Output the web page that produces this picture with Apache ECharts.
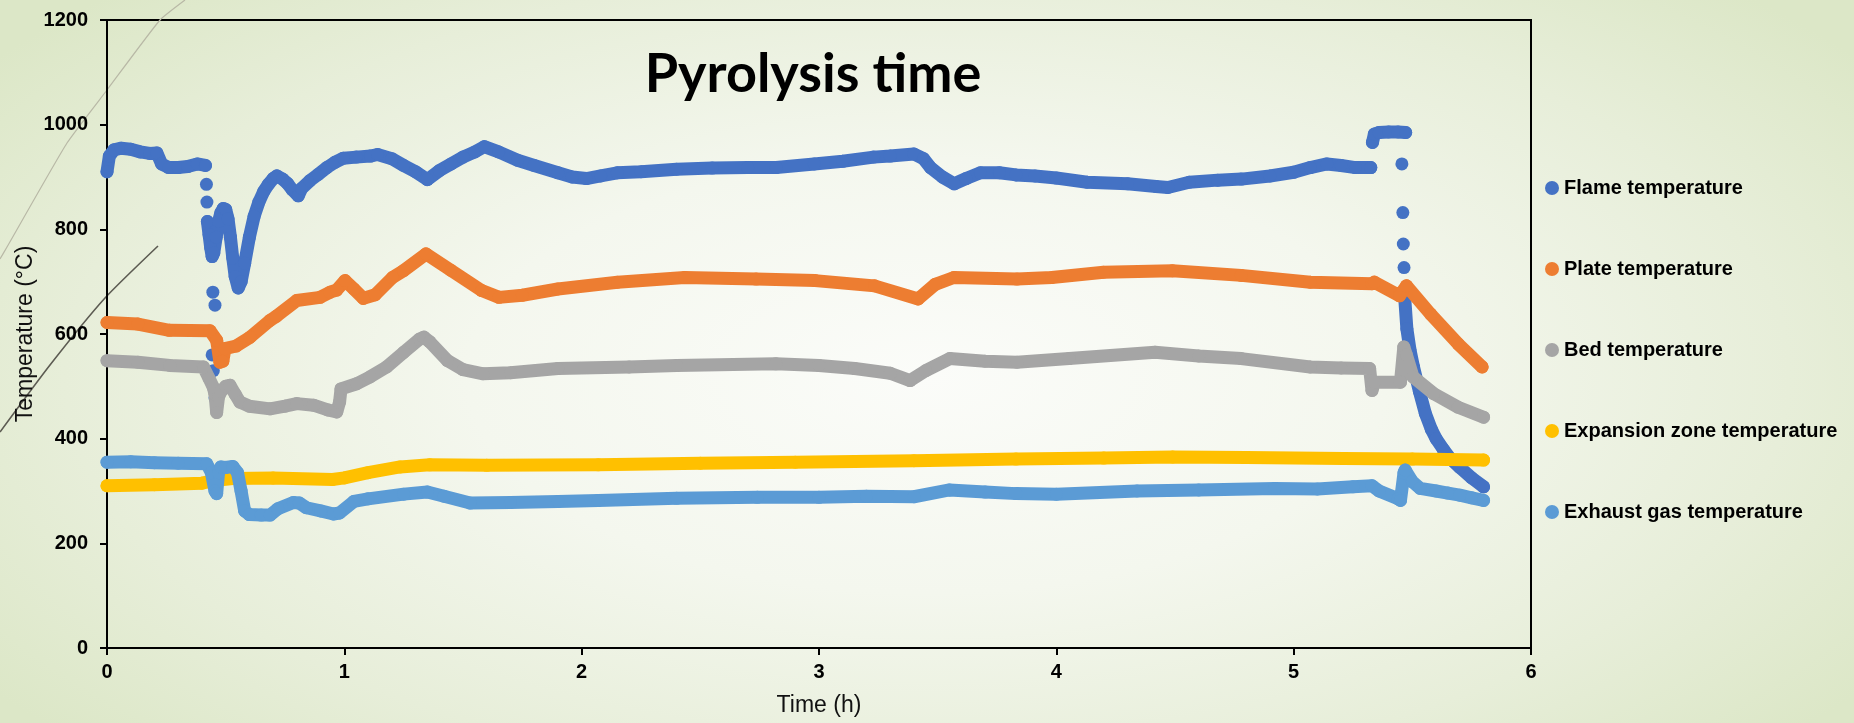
<!DOCTYPE html>
<html>
<head>
<meta charset="utf-8">
<script src="https://cdn.jsdelivr.net/npm/echarts@6/dist/echarts.min.js"></script>
<style>
html,body{margin:0;padding:0;}
#chart{width:1854px;height:723px;background:radial-gradient(ellipse 62% 75% at 50% 52%, #fbfcf9 0%, #f4f7ee 40%, #e7eed9 75%, #dce7c7 100%);}
</style>
</head>
<body>
<div id="chart"></div>
<script>
// ---------- data (time in h, temperature in °C); null = gap between separate dots ----------
const seriesNames = ['Flame temperature','Plate temperature','Bed temperature','Expansion zone temperature','Exhaust gas temperature'];
const seriesColors = ['#4472C4','#ED7D31','#A5A5A5','#FFC000','#5B9BD5'];
const xTicks = [0,1,2,3,4,5,6];
const yTicks = [0,200,400,600,800,1000,1200];

const flameTime = [0,0.01,0.03,0.06,0.10,0.14,0.18,0.21,0.23,0.26,0.30,0.34,0.38,0.415,null,
  0.419,null,0.421,null,0.443,null,0.448,null,0.455,null,0.446,null,0.455,null,
  0.423,0.43,0.437,0.443,0.45,0.46,0.47,0.48,0.49,0.50,0.51,0.52,0.53,0.54,0.553,0.565,0.58,0.60,0.62,0.64,0.66,0.68,0.70,0.716,0.74,0.76,0.78,0.806,0.82,0.855,0.89,0.926,0.96,0.996,1.05,1.11,1.14,1.2,1.25,1.30,1.35,1.40,1.45,1.50,1.55,1.59,1.65,1.73,1.80,1.90,1.96,2.02,2.08,2.15,2.25,2.40,2.55,2.70,2.82,2.98,3.10,3.23,3.30,3.40,3.44,3.47,3.52,3.57,3.62,3.68,3.76,3.83,3.91,4.0,4.13,4.3,4.42,4.47,4.56,4.68,4.78,4.9,5.0,5.07,5.14,5.2,5.26,5.325,null,
  5.332,5.34,5.36,5.40,5.44,5.472,null,
  5.456,null,5.46,null,5.462,null,5.465,null,
  5.467,5.477,5.49,5.505,5.53,5.555,5.58,5.60,5.63,5.66,5.70,5.75,5.80];
const flameTemp = [910,940,952,955,953,948,945,946,925,918,918,920,925,922,null,
  886,null,852,null,560,null,530,null,478,null,680,null,655,null,
  815,790,765,748,755,785,815,832,840,838,820,785,745,710,688,700,735,785,825,852,872,886,897,902,896,888,876,864,878,893,905,918,928,936,938,940,943,935,922,910,895,912,925,938,948,958,948,932,922,908,900,897,902,908,910,915,917,918,918,925,930,938,940,944,935,918,900,887,897,908,908,904,902,898,890,887,882,880,890,894,896,902,909,918,925,922,918,918,null,
  966,982,985,986,986,985,null,
  925,null,832,null,772,null,727,null,
  675,610,570,537,490,448,418,400,380,362,345,325,308];

const plateTime = [0,0.13,0.263,0.434,0.462,0.476,0.488,0.497,0.544,0.603,0.687,0.714,0.799,0.898,0.94,0.968,1.003,1.04,1.08,1.13,1.203,1.249,1.344,1.448,1.579,1.652,1.75,1.90,2.151,2.434,2.735,2.984,3.234,3.418,3.49,3.568,3.834,3.981,4.199,4.489,4.779,5.07,5.33,5.34,5.446,5.475,5.577,5.693,5.794];
const plateTemp = [622,619,607,606,588,546,548,572,577,594,626,634,664,670,680,684,702,686,668,675,708,721,753,722,683,670,674,686,699,708,705,702,692,667,695,708,705,708,718,721,712,699,696,699,673,692,638,581,537];

const bedTime = [0,0.13,0.265,0.406,0.43,0.448,0.455,0.462,0.47,0.48,0.5,0.518,0.54,0.56,0.6,0.687,0.75,0.8,0.87,0.93,0.968,0.98,0.986,1.052,1.108,1.178,1.25,1.316,1.335,1.36,1.435,1.5,1.585,1.7,1.9,2.2,2.4,2.818,3.0,3.151,3.3,3.384,3.45,3.551,3.7,3.834,4.054,4.416,4.6,4.779,5.07,5.2,5.32,5.33,5.34,5.45,5.464,5.475,5.503,5.59,5.693,5.8];
const bedTemp = [549,546,540,537,515,498,485,450,480,490,500,502,485,470,462,457,462,467,464,455,451,470,495,505,518,537,565,590,594,585,549,532,524,526,534,537,540,543,540,534,525,511,530,553,548,546,553,565,558,553,537,535,534,492,508,508,575,560,518,486,460,441];

const expTime = [0,0.2,0.4,0.45,0.53,0.7,0.95,1.0,1.1,1.235,1.36,1.6,2.07,2.5,2.9,3.4,3.83,4.2,4.49,4.8,5.21,5.5,5.8];
const expTemp = [310,312,315,320,324,325,322,325,335,346,350,349,350,353,355,358,361,363,365,364,362,361,359];

const exhTime = [0,0.1,0.2,0.3,0.42,0.44,0.455,0.462,0.47,0.48,0.5,0.53,0.55,0.565,0.58,0.6,0.65,0.687,0.72,0.785,0.81,0.84,0.9,0.954,0.98,1.04,1.1,1.25,1.35,1.42,1.53,1.7,1.9,2.07,2.4,2.74,3.0,3.2,3.4,3.55,3.7,3.83,4.0,4.34,4.6,4.92,5.1,5.25,5.33,5.36,5.44,5.45,5.465,5.47,5.5,5.533,5.6,5.65,5.7,5.75,5.8];
const exhTemp = [355,356,354,353,352,335,300,295,335,346,345,347,335,300,262,255,254,254,266,278,277,268,262,256,258,280,285,294,298,290,277,278,280,282,286,288,288,290,289,302,298,295,294,300,302,305,304,308,310,300,285,282,335,340,318,305,300,296,292,287,282];

// ---------- build ----------
function pairs(ts, vs){ return ts.map((t,i)=> (vs[i]==null||t==null) ? ['-','-'] : [t, vs[i]]); }
const allData = [pairs(flameTime,flameTemp),pairs(plateTime,plateTemp),pairs(bedTime,bedTemp),pairs(expTime,expTemp),pairs(exhTime,exhTemp)];

const chart = echarts.init(document.getElementById('chart'), null, {renderer:'canvas'});
const labelFont = {fontFamily:'Liberation Sans, Arial, sans-serif', fontWeight:'bold', fontSize:20, color:'#000'};
const nameFont = {fontFamily:'Liberation Sans, Arial, sans-serif', fontWeight:'normal', fontSize:23, color:'#111'};

chart.setOption({
  backgroundColor:'transparent',
  animation:false,
  color: seriesColors,
  grid:{left:107,right:323,top:20,bottom:75,show:true,borderColor:'#000',borderWidth:2,backgroundColor:'transparent'},
  xAxis:{type:'value',min:xTicks[0],max:xTicks[xTicks.length-1],interval:1,
    name:'Time (h)',nameLocation:'middle',nameGap:46,nameMoveOverlap:false,nameTextStyle:nameFont,
    axisLine:{show:true,onZero:false,lineStyle:{color:'#000',width:2}},
    axisTick:{show:true,length:7,lineStyle:{color:'#000',width:2}},
    axisLabel:Object.assign({margin:14,formatter:v=>String(v)},labelFont),
    splitLine:{show:false}},
  yAxis:{type:'value',min:yTicks[0],max:yTicks[yTicks.length-1],interval:200,
    name:'Temperature (°C)',nameLocation:'middle',nameGap:70,nameMoveOverlap:false,nameTextStyle:nameFont,
    axisLine:{show:true,lineStyle:{color:'#000',width:2}},
    axisTick:{show:true,length:7,lineStyle:{color:'#000',width:2}},
    axisLabel:Object.assign({margin:19,formatter:v=>String(v)},labelFont),
    splitLine:{show:false}},
  legend:{orient:'vertical',left:1540,top:173,itemGap:61,itemWidth:14,itemHeight:14,icon:'circle',
    data:seriesNames,
    textStyle:Object.assign({lineHeight:20},labelFont)},
  graphic:[
    {type:'polyline',z:0,silent:true,shape:{points:[[185,0],[160,20],[107,90],[67,143],[7,247],[0,259]],smooth:0.15},style:{stroke:'#b8b8a6',lineWidth:1.2,fill:null}},
    {type:'polyline',z:0,silent:true,shape:{points:[[158,246],[105,298],[50,365],[0,432]],smooth:0.2},style:{stroke:'#5c5b52',lineWidth:1.6,fill:null}},
    {type:'text',z:10,silent:true,style:{text:'Pyrolysis time',x:813,y:75,textAlign:'center',textVerticalAlign:'middle',font:'bold 54px Lato, "Liberation Sans", sans-serif',fill:'#000'}}
  ],
  series: seriesNames.map((n,i)=>({
    name:n,type:'line',data:allData[i],
    connectNulls:false,showSymbol:true,showAllSymbol:true,symbol:'circle',symbolSize:13,
    lineStyle:{width:13,cap:'round',join:'round',color:seriesColors[i]},
    itemStyle:{color:seriesColors[i]},
    emphasis:{disabled:true},
    z:2+i
  }))
});
</script>
</body>
</html>
